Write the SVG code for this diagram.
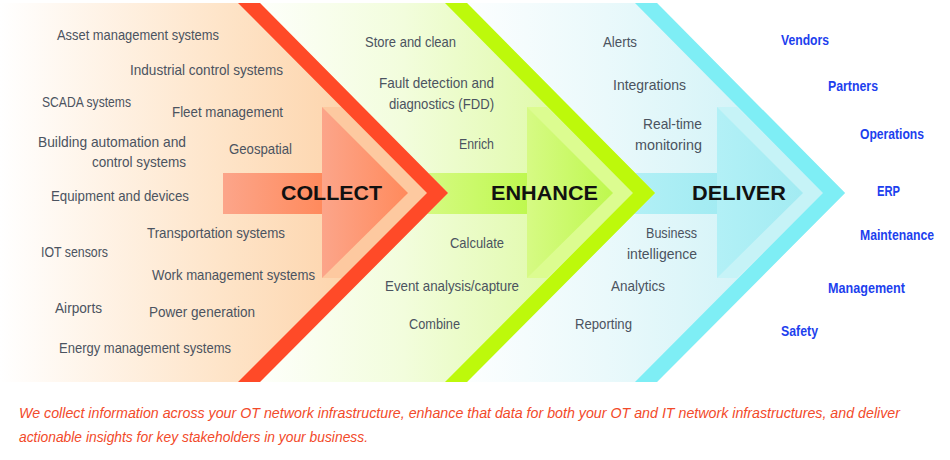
<svg xmlns="http://www.w3.org/2000/svg" width="950" height="460" viewBox="0 0 950 460">
<defs>
<linearGradient id="gC" x1="0" x2="1"><stop offset="0" stop-color="#ffffff"/><stop offset="0.5" stop-color="#fee4c8"/><stop offset="1" stop-color="#fcc896"/></linearGradient>
<linearGradient id="gE" x1="0" x2="1"><stop offset="0" stop-color="#ffffff"/><stop offset="0.4" stop-color="#f2fddc"/><stop offset="1" stop-color="#d4f888"/></linearGradient>
<linearGradient id="gD" x1="0" x2="1"><stop offset="0" stop-color="#ffffff"/><stop offset="0.4" stop-color="#eaf9fb"/><stop offset="1" stop-color="#c4eff5"/></linearGradient>
<linearGradient id="aC" x1="0" x2="1"><stop offset="0" stop-color="#fca58a"/><stop offset="1" stop-color="#ff8a5c"/></linearGradient>
<linearGradient id="aE" x1="0" x2="1"><stop offset="0" stop-color="#d6fa84"/><stop offset="1" stop-color="#bef84e"/></linearGradient>
<linearGradient id="aD" x1="0" x2="1"><stop offset="0" stop-color="#b2f0f6"/><stop offset="1" stop-color="#a2ebf2"/></linearGradient>
<style>
.t{font-family:"Liberation Sans",Arial,sans-serif;font-size:15px;fill:#4b5360}
.b{font-family:"Liberation Sans",Arial,sans-serif;font-size:15px;fill:#1d3fee;font-weight:bold}
.h{font-family:"Liberation Sans",Arial,sans-serif;font-size:21px;font-weight:bold;fill:#111}
.f{font-family:"Liberation Sans",Arial,sans-serif;font-size:15px;fill:#f24a2a;font-style:italic}
</style>
</defs>
<rect width="950" height="460" fill="#fff"/>
<g id="deliver">
<polygon points="445,3 657,3 845,193 657,382 445,382 633,193" fill="url(#gD)"/>
<rect x="630" y="173" width="90" height="41" fill="url(#aD)"/>
<polygon points="717,107 737,107 823,193 737,278 717,278" fill="#c6f3f7"/>
<polygon points="717,107 803,193 717,278" fill="url(#aD)"/>
<polygon points="635,3 657,3 845,193 657,382 635,382 823,193" fill="#7eeef5"/>
<text class="h" x="692" y="200" textLength="94" lengthAdjust="spacingAndGlyphs">DELIVER</text>
</g>
<g id="enhance">
<polygon points="238,3 467,3 655,193 467,382 238,382 427,193" fill="url(#gE)"/>
<rect x="420" y="173" width="110" height="41" fill="url(#aE)"/>
<polygon points="527,107 547,107 633,193 547,278 527,278" fill="#dcfc90"/>
<polygon points="527,107 613,193 527,278" fill="url(#aE)"/>
<polygon points="445,3 467,3 655,193 467,382 445,382 633,193" fill="#bdf90b"/>
<text class="h" x="491" y="200" textLength="107" lengthAdjust="spacingAndGlyphs">ENHANCE</text>
</g>
<g id="collect">
<polygon points="0,3 260,3 448,193 260,382 0,382" fill="url(#gC)"/>
<rect x="223" y="173" width="100" height="41" fill="url(#aC)"/>
<polygon points="322,107 342,107 427,193 342,278 322,278" fill="#fdc9a0"/>
<polygon points="322,107 408,193 322,278" fill="url(#aC)"/>
<polygon points="238,3 260,3 448,193 260,382 238,382 427,193" fill="#ff4a28"/>
<text class="h" x="281" y="200" textLength="101" lengthAdjust="spacingAndGlyphs">COLLECT</text>
</g>
<g id="collect-items">
<text class="t" x="57" y="40" textLength="162" lengthAdjust="spacingAndGlyphs">Asset management systems</text>
<text class="t" x="130" y="75" textLength="153" lengthAdjust="spacingAndGlyphs">Industrial control systems</text>
<text class="t" x="42" y="107" textLength="89" lengthAdjust="spacingAndGlyphs">SCADA systems</text>
<text class="t" x="172" y="117" textLength="111" lengthAdjust="spacingAndGlyphs">Fleet management</text>
<text class="t" x="38" y="147" textLength="148" lengthAdjust="spacingAndGlyphs">Building automation and</text>
<text class="t" x="92" y="167" textLength="94" lengthAdjust="spacingAndGlyphs">control systems</text>
<text class="t" x="229" y="154" textLength="63" lengthAdjust="spacingAndGlyphs">Geospatial</text>
<text class="t" x="51" y="201" textLength="138" lengthAdjust="spacingAndGlyphs">Equipment and devices</text>
<text class="t" x="147" y="238" textLength="138" lengthAdjust="spacingAndGlyphs">Transportation systems</text>
<text class="t" x="41" y="257" textLength="67" lengthAdjust="spacingAndGlyphs">IOT sensors</text>
<text class="t" x="152" y="280" textLength="163" lengthAdjust="spacingAndGlyphs">Work management systems</text>
<text class="t" x="55" y="313" textLength="47" lengthAdjust="spacingAndGlyphs">Airports</text>
<text class="t" x="149" y="317" textLength="106" lengthAdjust="spacingAndGlyphs">Power generation</text>
<text class="t" x="59" y="353" textLength="172" lengthAdjust="spacingAndGlyphs">Energy management systems</text>
</g>
<g id="enhance-items">
<text class="t" x="365" y="47" textLength="91" lengthAdjust="spacingAndGlyphs">Store and clean</text>
<text class="t" x="379" y="88" textLength="115" lengthAdjust="spacingAndGlyphs">Fault detection and</text>
<text class="t" x="389" y="109" textLength="105" lengthAdjust="spacingAndGlyphs">diagnostics (FDD)</text>
<text class="t" x="459" y="149" textLength="35" lengthAdjust="spacingAndGlyphs">Enrich</text>
<text class="t" x="450" y="248" textLength="54" lengthAdjust="spacingAndGlyphs">Calculate</text>
<text class="t" x="385" y="291" textLength="134" lengthAdjust="spacingAndGlyphs">Event analysis/capture</text>
<text class="t" x="409" y="329" textLength="51" lengthAdjust="spacingAndGlyphs">Combine</text>
</g>
<g id="deliver-items">
<text class="t" x="603" y="47" textLength="34" lengthAdjust="spacingAndGlyphs">Alerts</text>
<text class="t" x="613" y="90" textLength="73" lengthAdjust="spacingAndGlyphs">Integrations</text>
<text class="t" x="643" y="129" textLength="59" lengthAdjust="spacingAndGlyphs">Real-time</text>
<text class="t" x="635" y="150" textLength="67" lengthAdjust="spacingAndGlyphs">monitoring</text>
<text class="t" x="646" y="238" textLength="51" lengthAdjust="spacingAndGlyphs">Business</text>
<text class="t" x="627" y="259" textLength="70" lengthAdjust="spacingAndGlyphs">intelligence</text>
<text class="t" x="611" y="291" textLength="54" lengthAdjust="spacingAndGlyphs">Analytics</text>
<text class="t" x="575" y="329" textLength="57" lengthAdjust="spacingAndGlyphs">Reporting</text>
</g>
<g id="stakeholders">
<text class="b" x="781" y="45" textLength="48" lengthAdjust="spacingAndGlyphs">Vendors</text>
<text class="b" x="828" y="91" textLength="50" lengthAdjust="spacingAndGlyphs">Partners</text>
<text class="b" x="860" y="139" textLength="64" lengthAdjust="spacingAndGlyphs">Operations</text>
<text class="b" x="877" y="196" textLength="23" lengthAdjust="spacingAndGlyphs">ERP</text>
<text class="b" x="860" y="240" textLength="74" lengthAdjust="spacingAndGlyphs">Maintenance</text>
<text class="b" x="828" y="293" textLength="77" lengthAdjust="spacingAndGlyphs">Management</text>
<text class="b" x="781" y="336" textLength="37" lengthAdjust="spacingAndGlyphs">Safety</text>
</g>
<g id="caption">
<text class="f" x="19" y="418" textLength="881" lengthAdjust="spacingAndGlyphs">We collect information across your OT network infrastructure, enhance that data for both your OT and IT network infrastructures, and deliver</text>
<text class="f" x="19" y="442" textLength="349" lengthAdjust="spacingAndGlyphs">actionable insights for key stakeholders in your business.</text>
</g>
<g id="connectors"/>
</svg>
